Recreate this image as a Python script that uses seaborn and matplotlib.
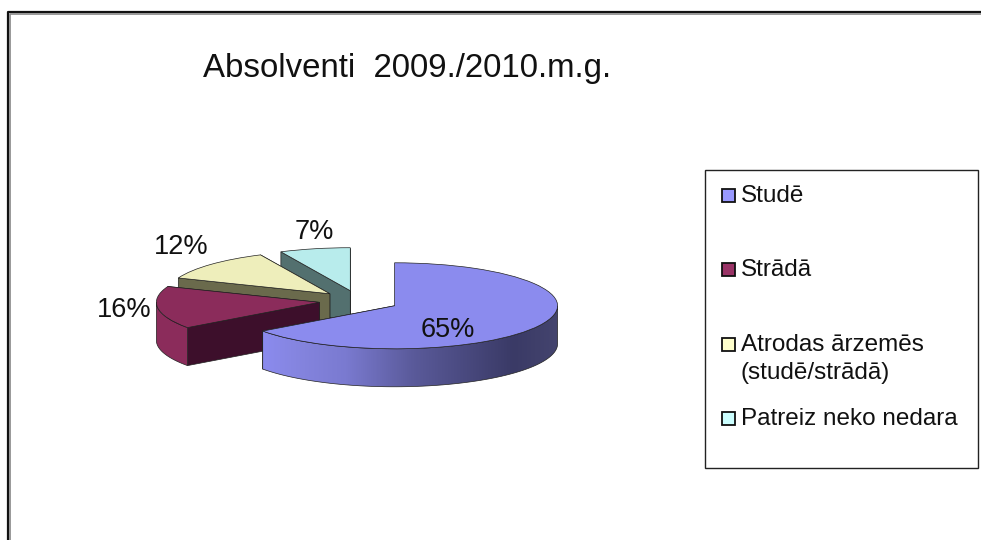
import numpy as np
import matplotlib
matplotlib.use("Agg")
import matplotlib.pyplot as plt
import seaborn as sns
from matplotlib.colors import LinearSegmentedColormap
from matplotlib.patches import Polygon, Rectangle

title = "Absolventi  2009./2010.m.g."
categories = ["Studē", "Strādā", "Atrodas ārzemēs\n(studē/strādā)", "Patreiz neko nedara"]
shares = [65, 16, 12, 7]
top_colors = ["#8b8bee", "#8b2c5b", "#eeeebb", "#b8ecec"]
cut_colors = ["#3c3c68", "#3d0f2b", "#6a6a4c", "#53706f"]
legend_colors = ["#9999ff", "#993366", "#ffffcc", "#ccffff"]

W, H = 981, 540
RX, RY = 163, 43      # pie radius on screen, pixels
CX, CY = 359, 301     # pie centre on screen, pixels
DEPTH = 38 / RY

sns.set_theme(style="white")
plt.rcParams["font.family"] = ["Liberation Sans", "DejaVu Sans"]

fig = plt.figure(figsize=(W / 100, H / 100), dpi=100)
ax = fig.add_axes([0, 0, 1, 1])

wedges, _ = ax.pie(shares, colors=top_colors, startangle=90, counterclock=False,
                   explode=[0.245] * 4, wedgeprops={"edgecolor": "#222222", "linewidth": 0.5})


def rim(w, angles):
    a = np.radians(angles)
    return np.column_stack([w.center[0] + w.r * np.cos(a), w.center[1] + w.r * np.sin(a)])


# back slices first, the big one comes out in front
for i, w in enumerate(wedges):
    base = 2 + len(wedges) - i
    w.set_zorder(base + 0.3)

    # cut faces
    for theta in (w.theta1, w.theta2):
        edge = np.vstack([w.center, rim(w, [theta])])
        face = np.vstack([edge, edge[::-1] - [0, DEPTH]])
        ax.add_patch(Polygon(face, fc=cut_colors[i], ec="#222222", lw=0.5, zorder=base + 0.1))

    # curved side, only the part that faces the viewer
    a, b = max(w.theta1, -180), min(w.theta2, 0)
    if a < b:
        arc = rim(w, np.linspace(a, b, 80))
        side = np.vstack([arc, arc[::-1] - [0, DEPTH]])
        if i == 0:
            patch = Polygon(side, fc="none", ec="#222222", lw=0.5, zorder=base + 0.25)
            ax.add_patch(patch)
            cmap = LinearSegmentedColormap.from_list("side", [
                (0, "#8b8bee"), (0.11, "#8585e0"), (0.28, "#7a7ad0"), (0.51, "#5a5a9a"),
                (0.68, "#4a4a80"), (0.85, "#3a3a66"), (1, "#44446e")])
            im = ax.imshow(np.linspace(0, 1, 256)[None, :], cmap=cmap, aspect="auto", zorder=base + 0.2,
                           extent=[arc[:, 0].min(), arc[:, 0].max(), side[:, 1].min(), side[:, 1].max()])
            im.set_clip_path(patch)
        else:
            ax.add_patch(Polygon(side, fc=top_colors[i], ec="#222222", lw=0.5, zorder=base + 0.2))

ax.set_aspect("auto")
ax.set_xlim(-CX / RX, (W - CX) / RX)
ax.set_ylim(-(H - CY) / RY, CY / RY)
ax.axis("off")

# overlay in pixel coordinates for frame, texts and legend box
ov = fig.add_axes([0, 0, 1, 1], zorder=5)
ov.set_xlim(0, W)
ov.set_ylim(H, 0)
ov.axis("off")
ov.patch.set_alpha(0)

ov.plot([8, 8, W], [H, 12, 12], color="#111111", lw=1.6)
ov.plot([9.6, 9.6, W], [H, 13.6, 13.6], color="#888888", lw=1.2)

ov.text(407, 69, title, fontsize=23.8, ha="center", va="center", color="#111111")

label_pos = [(448, 330), (124, 310), (181, 247), (314, 232)]
for s, (x, y) in zip(shares, label_pos):
    ov.text(x, y, f"{s}%", fontsize=19.5, ha="center", va="center", color="#111111")

ov.add_patch(Rectangle((705, 170), 273, 298, fc="white", ec="#222222", lw=1))
rows = [196, 270, 345, 419]
for name, color, y in zip(categories, legend_colors, rows):
    ov.add_patch(Rectangle((722, y - 7.5), 13, 13, fc=color, ec="#111111", lw=1.3))
    first, *rest = name.split("\n")
    ov.text(741, y, first, fontsize=17.5, ha="left", va="center", color="#111111")
    if rest:
        ov.text(741, y + 28, rest[0], fontsize=17.5, ha="left", va="center", color="#111111")

fig.savefig("out.png", dpi=100)
